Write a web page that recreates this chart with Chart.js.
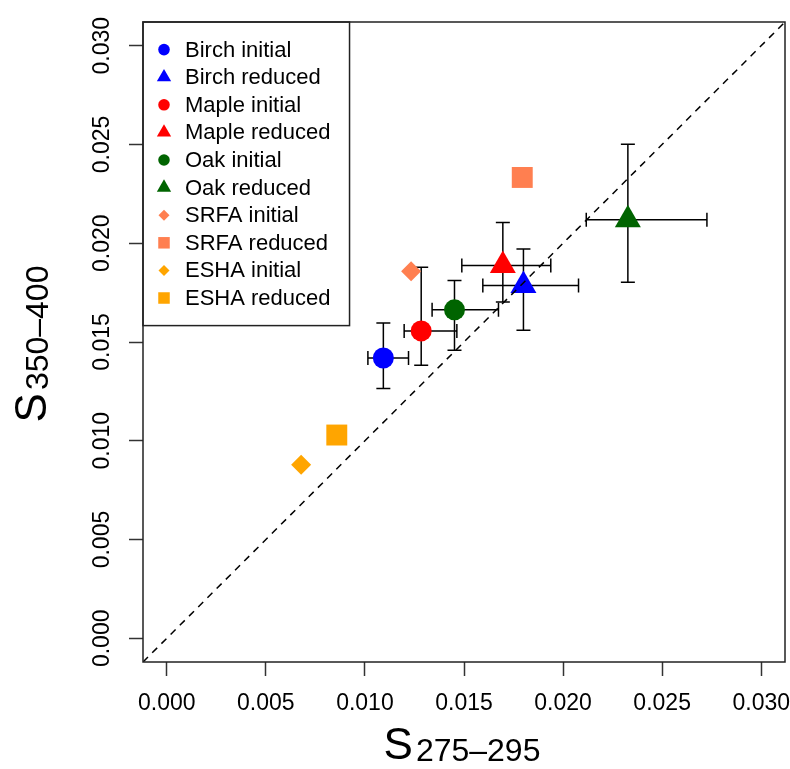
<!DOCTYPE html>
<html>
<head>
<meta charset="utf-8">
<script src="https://cdn.jsdelivr.net/npm/chart.js@4.4.1/dist/chart.umd.min.js"></script>
<style>
  html, body { margin: 0; padding: 0; background: #fff; }
</style>
</head>
<body>
<canvas id="chart" width="790" height="769"></canvas>
<script>
// Dados
const seriesNames = ['Birch initial', 'Birch reduced', 'Maple initial', 'Maple reduced', 'Oak initial',
                     'Oak reduced', 'SRFA initial', 'SRFA reduced', 'ESHA initial', 'ESHA reduced'];
const xValues = [0.01093, 0.01800, 0.01284, 0.01696, 0.01452, 0.02327, 0.01233, 0.01794, 0.00678, 0.00858];
const yValues = [0.01419, 0.01786, 0.01556, 0.01887, 0.01663, 0.02119, 0.01858, 0.02333, 0.00878, 0.01029];
const xLow  = [0.01015, 0.01595, 0.01198, 0.01489, 0.01339, 0.02117, null, null, null, null];
const xHigh = [0.01220, 0.02078, 0.01464, 0.01938, 0.01674, 0.02726, null, null, null, null];
const yLow  = [0.01265, 0.01559, 0.01382, 0.01702, 0.01458, 0.01803, null, null, null, null];
const yHigh = [0.01596, 0.01971, 0.01878, 0.02105, 0.01811, 0.02501, null, null, null, null];
const tickValues = [0, 0.005, 0.010, 0.015, 0.020, 0.025, 0.030];
const axisMin = -0.0012;
const axisMax = 0.0312;

const colors = ['#0000FF', '#0000FF', '#FF0000', '#FF0000', '#006400', '#006400', '#FF7F50', '#FF7F50', '#FFA500', '#FFA500'];
const styles = ['circle', 'triangle', 'circle', 'triangle', 'circle', 'triangle', 'rectRot', 'rect', 'rectRot', 'rect'];
const radiusByStyle = { circle: 10.5, triangle: 15, rectRot: 10, rect: 14.8 };

const FONT = '"Liberation Sans", Arial, Helvetica, sans-serif';

// linha 1:1 tracejada (desenhada por cima dos pontos)
const datasets = [{
    type: 'line',
    label: '1:1',
    data: [{ x: axisMin, y: axisMin }, { x: axisMax, y: axisMax }],
    borderColor: '#000',
    borderWidth: 1.5,
    borderDash: [7, 6],
    pointRadius: 0,
    fill: false
}];

seriesNames.forEach((name, i) => {
    datasets.push({
        type: 'scatter',
        label: name,
        data: [{ x: xValues[i], y: yValues[i] }],
        backgroundColor: colors[i],
        borderColor: colors[i],
        borderWidth: 0,
        pointStyle: styles[i],
        pointRadius: radiusByStyle[styles[i]],
        pointHoverRadius: radiusByStyle[styles[i]]
    });
});

// Barras de erro
const errorBars = {
    id: 'errorBars',
    beforeDatasetsDraw(chart) {
        const { ctx, scales: { x, y } } = chart;
        const cap = 7;
        ctx.save();
        ctx.strokeStyle = '#000';
        ctx.lineWidth = 1.5;
        for (let i = 0; i < xValues.length; i++) {
            const px = x.getPixelForValue(xValues[i]);
            const py = y.getPixelForValue(yValues[i]);
            ctx.beginPath();
            if (xLow[i] !== null) {
                const x1 = x.getPixelForValue(xLow[i]);
                const x2 = x.getPixelForValue(xHigh[i]);
                ctx.moveTo(x1, py); ctx.lineTo(x2, py);
                ctx.moveTo(x1, py - cap); ctx.lineTo(x1, py + cap);
                ctx.moveTo(x2, py - cap); ctx.lineTo(x2, py + cap);
            }
            if (yLow[i] !== null) {
                const y1 = y.getPixelForValue(yLow[i]);
                const y2 = y.getPixelForValue(yHigh[i]);
                ctx.moveTo(px, y1); ctx.lineTo(px, y2);
                ctx.moveTo(px - cap, y1); ctx.lineTo(px + cap, y1);
                ctx.moveTo(px - cap, y2); ctx.lineTo(px + cap, y2);
            }
            ctx.stroke();
        }
        ctx.restore();
    }
};

// Legenda com caixa, canto superior esquerdo
const boxLegend = {
    id: 'boxLegend',
    afterDatasetsDraw(chart) {
        const { ctx, chartArea } = chart;
        const rowH = 27.6;
        const items = chart.data.datasets.filter(d => d.type === 'scatter');
        ctx.save();
        ctx.font = '22px ' + FONT;
        let maxW = 0;
        items.forEach(d => { maxW = Math.max(maxW, ctx.measureText(d.label).width); });
        const left = chartArea.left;
        const top = chartArea.top;
        const w = 42 + maxW + 19;
        const h = rowH * (items.length + 1);
        ctx.fillStyle = '#fff';
        ctx.fillRect(left, top, w, h);
        ctx.strokeStyle = '#222';
        ctx.lineWidth = 1.5;
        ctx.strokeRect(left, top, w, h);
        items.forEach((d, i) => {
            const cy = top + rowH * (i + 1);
            ctx.fillStyle = d.backgroundColor;
            Chart.helpers.drawPoint(ctx, { pointStyle: d.pointStyle, radius: d.pointRadius * 0.55, rotation: 0, borderWidth: 0 }, left + 21, cy);
            ctx.fillStyle = '#000';
            ctx.textBaseline = 'middle';
            ctx.textAlign = 'left';
            ctx.fillText(d.label, left + 42, cy + 1);
        });
        ctx.restore();
    }
};

function drawSubLabel(ctx, main, sub, cx, baseline) {
    ctx.font = '44px ' + FONT;
    const w1 = ctx.measureText(main).width;
    ctx.font = '32px ' + FONT;
    const w2 = ctx.measureText(sub).width;
    const start = cx - (w1 + 3 + w2) / 2;
    ctx.textAlign = 'left';
    ctx.textBaseline = 'alphabetic';
    ctx.font = '44px ' + FONT;
    ctx.fillText(main, start, baseline);
    ctx.font = '32px ' + FONT;
    ctx.fillText(sub, start + w1 + 3, baseline + 2);
}

// Moldura do gráfico e títulos dos eixos
const frameAndTitles = {
    id: 'frameAndTitles',
    afterDraw(chart) {
        const { ctx, chartArea: a } = chart;
        ctx.save();
        ctx.strokeStyle = '#222';
        ctx.lineWidth = 1.5;
        ctx.strokeRect(a.left, a.top, a.right - a.left, a.bottom - a.top);
        ctx.fillStyle = '#000';
        drawSubLabel(ctx, 'S', '275\u2013295', (a.left + a.right) / 2 - 2, a.bottom + 97);
        ctx.translate(a.left - 97, (a.top + a.bottom) / 2 + 2);
        ctx.rotate(-Math.PI / 2);
        drawSubLabel(ctx, 'S', '350\u2013400', 0, 0);
        ctx.restore();
    }
};

const tickFont = { size: 23, family: FONT };

new Chart(document.getElementById('chart').getContext('2d'), {
    type: 'scatter',
    data: { datasets: datasets },
    options: {
        responsive: false,
        animation: false,
        layout: { autoPadding: false, padding: { left: 0, top: 22, right: 5, bottom: 0 } },
        plugins: {
            legend: { display: false },
            tooltip: { enabled: false }
        },
        scales: {
            x: {
                type: 'linear',
                min: axisMin,
                max: axisMax,
                afterBuildTicks: s => { s.ticks = tickValues.map(v => ({ value: v })); },
                afterFit: s => { s.height = 107; s.paddingLeft = 0; s.paddingRight = 0; },
                ticks: {
                    callback: v => v.toFixed(3),
                    font: tickFont,
                    color: '#000',
                    padding: 14,
                    autoSkip: false,
                    maxRotation: 0
                },
                grid: { drawOnChartArea: false, drawTicks: true, tickLength: 14, tickWidth: 1.5, tickColor: '#333' },
                border: { display: false }
            },
            y: {
                type: 'linear',
                min: axisMin,
                max: axisMax,
                afterBuildTicks: s => { s.ticks = tickValues.map(v => ({ value: v })); },
                afterFit: s => { s.width = 143; s.paddingTop = 0; s.paddingBottom = 0; },
                ticks: {
                    callback: v => v.toFixed(3),
                    font: tickFont,
                    color: '#000',
                    padding: -2,
                    autoSkip: false,
                    minRotation: 90,
                    maxRotation: 90,
                    crossAlign: 'center'
                },
                grid: { drawOnChartArea: false, drawTicks: true, tickLength: 14, tickWidth: 1.5, tickColor: '#333' },
                border: { display: false }
            }
        }
    },
    plugins: [errorBars, boxLegend, frameAndTitles]
});
</script>
</body>
</html>
